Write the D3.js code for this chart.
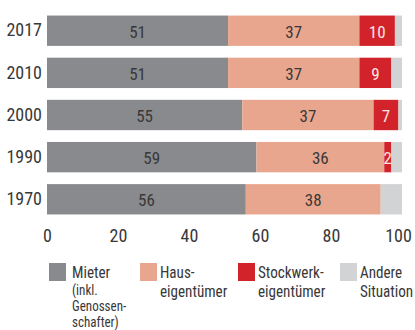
<!DOCTYPE html>
<html>
<head>
<meta charset="utf-8">
<script src="https://cdn.jsdelivr.net/npm/d3@7"></script>
<style>
  html, body { margin: 0; padding: 0; background: #fff; }
  svg { display: block; font-family: "Liberation Sans Narrow", "Roboto Condensed", "Arial Narrow", sans-serif; }
</style>
</head>
<body>
<svg id="chart" width="415" height="330"></svg>
<script>
// Wohnsituation der Haushalte, Anteile in Prozent
const years = ["2017", "2010", "2000", "1990", "1970"];
const mieter = [51, 51, 55, 59, 56];
const hauseigentuemer = [37, 37, 37, 36, 38];
const stockwerkeigentuemer = [10, 9, 7, 2, 0];
const andere = [2, 3, 1, 3, 6];
const xTicks = [0, 20, 40, 60, 80, 100];

const seriesKeys = ["mieter", "haus", "stockwerk", "andere"];
const seriesColors = ["#898a8e", "#e9a68f", "#d2232a", "#d1d3d4"];
const labelColors = ["#383838", "#383838", "#f8e6e6", null];
const textColor = "#383838";

const rows = years.map((y, i) => ({
  year: y,
  mieter: mieter[i],
  haus: hauseigentuemer[i],
  stockwerk: stockwerkeigentuemer[i],
  andere: andere[i]
}));

const svg = d3.select("#chart");

const x = d3.scaleLinear().domain([0, 100]).range([47, 402]);
const y = d3.scaleBand().domain(years).range([3.75, 226.25]).padding(0.28);

const stacked = d3.stack().keys(seriesKeys)(rows);

const layers = svg.append("g").selectAll("g")
  .data(stacked)
  .join("g")
  .attr("fill", (d, i) => seriesColors[i]);

layers.selectAll("rect")
  .data(d => d)
  .join("rect")
  .attr("x", d => x(d[0]))
  .attr("y", d => y(d.data.year))
  .attr("width", d => Math.max(0, x(d[1]) - x(d[0])))
  .attr("height", y.bandwidth());

// value labels inside the segments
layers.each(function (layer, i) {
  if (!labelColors[i]) return;
  d3.select(this).selectAll("text")
    .data(layer.filter(d => d[1] - d[0] > 0))
    .join("text")
    .attr("x", d => (x(d[0]) + x(d[1])) / 2)
    .attr("y", d => y(d.data.year) + y.bandwidth() / 2 + 1)
    .attr("dominant-baseline", "central")
    .attr("text-anchor", "middle")
    .attr("fill", labelColors[i])
    .attr("font-size", 17)
    .text(d => d[1] - d[0]);
});

// year labels
const yAxis = d3.axisLeft(y).tickSize(0).tickPadding(5);
const yg = svg.append("g").attr("transform", "translate(47,0)").call(yAxis);
yg.select(".domain").remove();
yg.attr("font-family", null);
yg.selectAll("text")
  .attr("font-size", 18)
  .attr("fill", textColor);

// value axis
const xAxis = d3.axisBottom(x).tickValues(xTicks).tickSize(0).tickPadding(0);
const xg = svg.append("g").attr("transform", "translate(0,229)").call(xAxis);
xg.select(".domain").remove();
xg.attr("font-family", null);
xg.selectAll("text")
  .attr("font-size", 18)
  .attr("fill", textColor)
  .attr("dx", d => (d === 100 ? -4 : 0));

// legend
const legendItems = [
  { key: "mieter", x: 49, lines: ["Mieter"], sub: ["(inkl.", "Genossen-", "schafter)"] },
  { key: "haus", x: 140, lines: ["Haus-", "eigentümer"], sub: [] },
  { key: "stockwerk", x: 238, lines: ["Stockwerk-", "eigentümer"], sub: [] },
  { key: "andere", x: 340, lines: ["Andere", "Situation"], sub: [] }
];

const legend = svg.append("g");
legendItems.forEach((item, i) => {
  const g = legend.append("g").attr("transform", `translate(${item.x},263)`);
  g.append("rect")
    .attr("width", 17)
    .attr("height", 18)
    .attr("fill", seriesColors[seriesKeys.indexOf(item.key)]);
  const tx = i === 0 ? 23 : 20;
  item.lines.forEach((t, j) => {
    g.append("text")
      .attr("transform", `translate(${tx},${15 + j * 19}) scale(0.89,1)`)
      .attr("font-size", 17)
      .attr("fill", textColor)
      .text(t);
  });
  item.sub.forEach((t, j) => {
    g.append("text")
      .attr("transform", `translate(${tx},${31.5 + j * 16}) scale(0.9,1)`)
      .attr("font-size", 14.5)
      .attr("fill", textColor)
      .text(t);
  });
});
</script>
</body>
</html>
